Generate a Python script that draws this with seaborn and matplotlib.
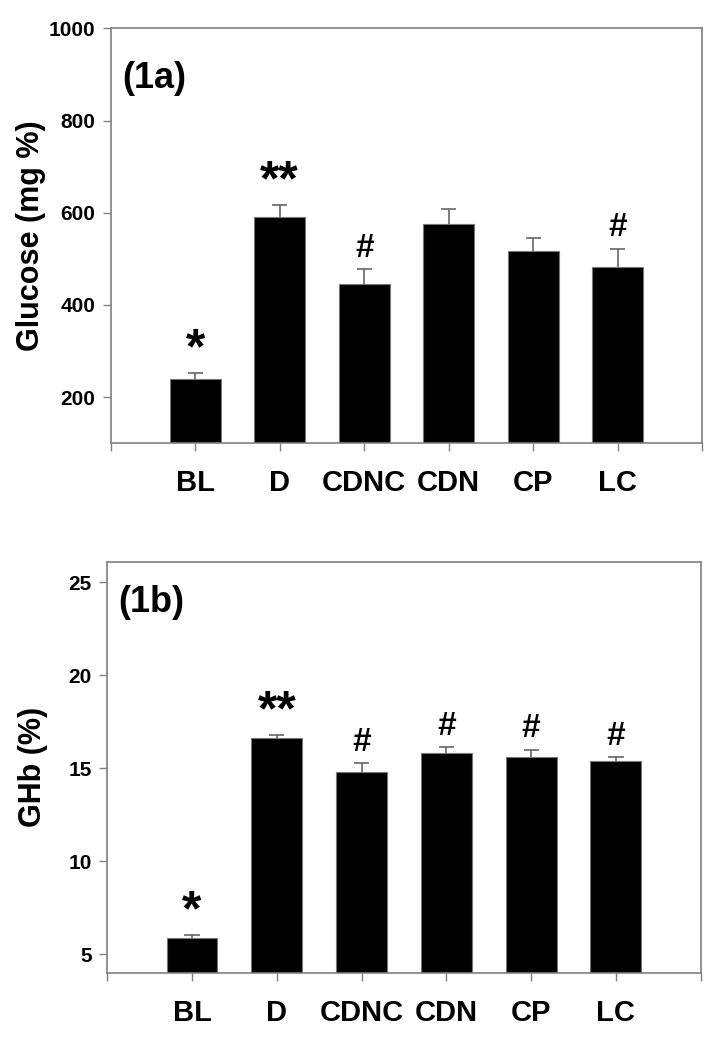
import numpy as np
import matplotlib
matplotlib.use("Agg")
import matplotlib.pyplot as plt
import seaborn as sns

# groups and values
groups = ["BL", "D", "CDNC", "CDN", "CP", "LC"]

glucose = [240, 591, 446, 576, 517, 483]
glucose_err = [12, 26, 31, 33, 29, 39]
glucose_marks = ["*", "**", "#", "", "", "#"]

ghb = [5.9, 16.65, 14.78, 15.85, 15.6, 15.42]
ghb_err = [0.12, 0.12, 0.48, 0.28, 0.4, 0.17]
ghb_marks = ["*", "**", "#", "#", "#", "#"]

sns.set_style("white")
plt.rcParams['font.family'] = ['Liberation Sans', 'DejaVu Sans']
plt.rcParams['font.weight'] = 'bold'
plt.rcParams['text.color'] = 'black'
plt.rcParams['axes.labelcolor'] = 'black'
plt.rcParams['xtick.color'] = 'black'
plt.rcParams['ytick.color'] = 'black'

fig = plt.figure(figsize=(7.15, 10.5), dpi=100)
ax1 = fig.add_axes([0.155, 0.578, 0.827, 0.395])
ax2 = fig.add_axes([0.150, 0.0733, 0.830, 0.3917])

edge = "#808080"


def draw_panel(ax, vals, errs, marks, ylim, yticks, ylabel, tag, tag_y, lab_x):
    x = np.arange(len(groups))
    vals = np.array(vals)
    errs = np.array(errs)
    sns.barplot(x=groups, y=vals, color="black", width=0.6, edgecolor="#777777",
                linewidth=0.8, saturation=1, ax=ax)
    # upper half of the error bar only
    ax.vlines(x, vals, vals + errs, color="#666666", lw=1.2, zorder=3)
    ax.hlines(vals + errs, x - 0.09, x + 0.09, color="#666666", lw=1.2, zorder=3)
    for i, m in enumerate(marks):
        if not m:
            continue
        star = "*" in m
        ax.annotate(m, (i, vals[i] + errs[i]), xytext=(0, 0 if star else 4),
                    textcoords="offset points", ha="center", va="bottom",
                    fontsize=36 if star else 24, fontweight="bold")
    ax.set_xlim(-1, 6)
    ax.set_ylim(*ylim)
    ax.set_yticks(yticks)
    ax.set_xticks(range(-1, 7))
    ax.set_xticklabels([""] + groups + [""], fontsize=21, fontweight="bold")
    ax.tick_params(axis="x", length=6, width=1, color=edge, pad=13, bottom=True)
    ax.tick_params(axis="y", length=6, width=1, color=edge, labelsize=15, left=True, pad=5)
    for lab in ax.get_yticklabels():
        lab.set_fontweight("bold")
    for s in ax.spines.values():
        s.set_color(edge)
        s.set_linewidth(1.2)
    ax.set_ylabel(ylabel, fontsize=22, fontweight="bold")
    ax.yaxis.set_label_coords(lab_x, 0.5)
    ax.text(0.019, tag_y, tag, transform=ax.transAxes, fontsize=26,
            fontweight="bold", va="center", ha="left")


draw_panel(ax1, glucose, glucose_err, glucose_marks, (100, 1000),
           [200, 400, 600, 800, 1000], "Glucose (mg %)", "(1a)", 0.88, -0.11)
draw_panel(ax2, ghb, ghb_err, ghb_marks, (4, 26.1),
           [5, 10, 15, 20, 25], "GHb (%)", "(1b)", 0.90, -0.1)

fig.savefig("out.png", dpi=100)
